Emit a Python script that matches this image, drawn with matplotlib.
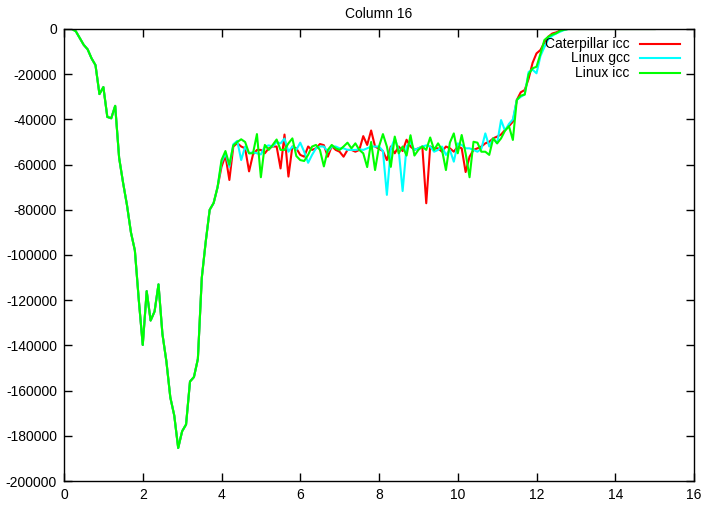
import numpy as np
import matplotlib
matplotlib.use("Agg")
import matplotlib.pyplot as plt

plt.rcParams['font.family'] = ['Liberation Sans', 'DejaVu Sans']
plt.rcParams['axes.unicode_minus'] = False

# sample grid, 0.1 apart, 0 .. 15
x = np.round(np.arange(151) * 0.1, 1)

# shared descent 0.0 .. 3.8
head = [0, 0, 0, -1000, -4000, -7000, -9000, -13000, -16000, -28800,
        -25700, -38900, -39500, -34000, -57000, -68000, -78000, -90000, -98000, -120000,
        -139800, -116000, -129000, -125000, -113000, -135000, -147000, -163000, -171000, -185400,
        -178000, -175000, -156000, -154000, -146000, -110000, -94000, -80000, -77000]

# noisy plateau 3.9 .. 11.5
mid_red = [-70000, -61000, -56000, -66800, -52000, -50500, -52000, -52800, -63000, -55500,
           -53500, -53500, -55000, -52800, -52000, -52000, -61700, -46700, -65300, -52000,
           -52800, -55700, -56500, -52000, -53500, -52800, -50900, -51400, -56500, -51800,
           -53500, -54300, -56500, -53500, -53500, -54300, -53500, -47400, -51300, -44900,
           -52000, -53000, -54000, -58000, -52000, -55000, -52000, -54000, -49000, -52000,
           -53500, -52800, -52000, -77100, -52000, -52800, -52800, -54300, -52000, -52800,
           -54300, -52000, -52800, -63300, -56500, -53500, -52800, -52000, -50600, -49900,
           -48400, -47600, -46700, -44700, -43000, -41000, -31400]
mid_gcc = [-70000, -59000, -55000, -61000, -51000, -49500, -58000, -52000, -55000, -54500,
           -55000, -55500, -52000, -51500, -52000, -50000, -50600, -48500, -54300, -52000,
           -53500, -50300, -54300, -59200, -55700, -52800, -52000, -52000, -54300, -52000,
           -52000, -52800, -52800, -53500, -53500, -53500, -53200, -53500, -52800, -52000,
           -52000, -52000, -54000, -73400, -53000, -48400, -53500, -71700, -52000, -50000,
           -53500, -52800, -52000, -51500, -52000, -54300, -53500, -52000, -55700, -53500,
           -58700, -50600, -51300, -52800, -52800, -53500, -54300, -53000, -46200, -52000,
           -48400, -50600, -40300, -45000, -42000, -40000, -31400]
mid_icc = [-70000, -58000, -54000, -60000, -51500, -50000, -48800, -50000, -55000, -55000,
           -46500, -65600, -51300, -53500, -51300, -48900, -53500, -53500, -50600, -48400,
           -56200, -58000, -58400, -55700, -52000, -51300, -53500, -60800, -53500, -51300,
           -52800, -53500, -52000, -50300, -52800, -50600, -53500, -55000, -61100, -50000,
           -62400, -52000, -46500, -52000, -61000, -47600, -55000, -52000, -56000, -47000,
           -56000, -53500, -52000, -53500, -48000, -53500, -50600, -53500, -62400, -50300,
           -46200, -55000, -46900, -55000, -65600, -49900, -50300, -54300, -54300, -55700,
           -48400, -50600, -48400, -45000, -43000, -49100, -31400]

# climb back to zero 11.6 .. 15.0
tail_red = [-28000, -27000, -22000, -15000, -10800, -9300, -6000, -3400, -2000, -1500,
            -700, -200] + [0] * 23
tail_gcc = [-30000, -29000, -19000, -18000, -19600, -12000, -8000, -4500, -3000, -2000,
            -1200, -500] + [0] * 23
tail_icc = [-29500, -29000, -20000, -17400, -16700, -11000, -4900, -3400, -2500, -1900,
            -800, -300] + [0] * 23

caterpillar_icc = head + mid_red + tail_red
linux_gcc = head + mid_gcc + tail_gcc
linux_icc = head + mid_icc + tail_icc

series = [("Caterpillar icc", caterpillar_icc, "#ff0000"),
          ("Linux gcc", linux_gcc, "#00ffff"),
          ("Linux icc", linux_icc, "#00ff00")]

fig = plt.figure(figsize=(7.09, 5.08), dpi=100)
ax = fig.add_axes([64 / 709, 1 - 481 / 508, 630 / 709, 452 / 508])

for name, y, col in series:
    ax.plot(x, y, color=col, lw=1.5)

ax.set_xlim(0, 16)
ax.set_ylim(-200000, 0)
ax.set_xticks(np.arange(0, 17, 2))
ax.set_yticks(np.arange(-200000, 1, 20000))
ax.tick_params(direction='in', length=6, width=1, top=True, right=True,
               labelsize=10, pad=5)
for s in ax.spines.values():
    s.set_linewidth(1)

ax.set_title("Column 16", fontsize=10, pad=8)

# gnuplot style key: right aligned text, sample line on the right
rows = [0.967, 0.935, 0.903]
for (name, y, col), ry in zip(series, rows):
    ax.text(0.898, ry, name, transform=ax.transAxes, ha='right', va='center',
            fontsize=10)
    ax.plot([0.914, 0.978], [ry, ry], transform=ax.transAxes, color=col, lw=1.5)

fig.savefig("out.png", dpi=100)
